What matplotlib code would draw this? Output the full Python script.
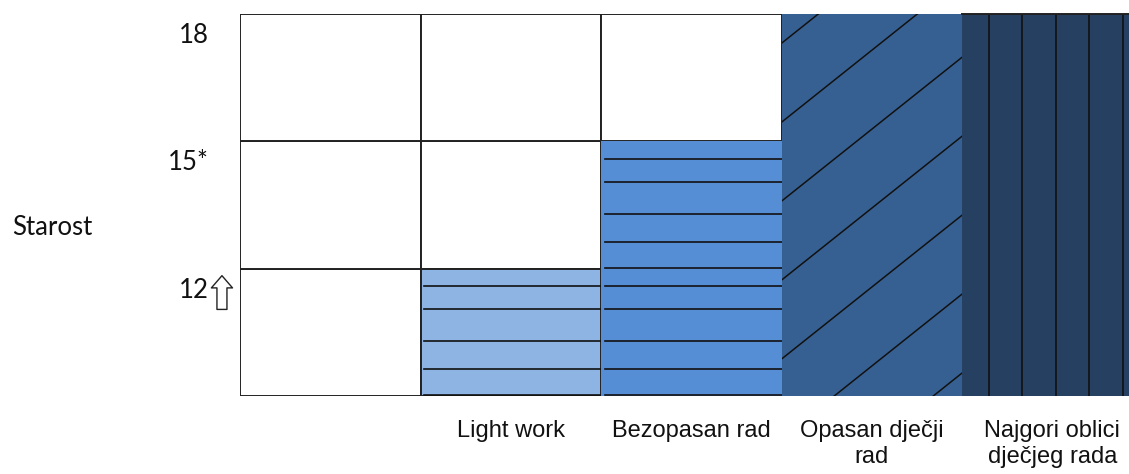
import numpy as np
import matplotlib
matplotlib.use('Agg')
import matplotlib.pyplot as plt

# Data: work categories and how many age bands (12, 15*, 18) each one covers
categories = ['', 'Light work', 'Bezopasan rad', 'Opasan dječji\nrad', 'Najgori oblici\ndječjeg rada']
bands_covered = [0, 1, 2, 3, 3]
ages = ['12', '15*', '18']
y_title = 'Starost'

fill_colors = ['white', '#8DB4E2', '#558ED5', '#376092', '#254061']
hatch_kind = [None, 'h', 'h', 'd', 'v']

fig = plt.figure(figsize=(11.29, 4.74), dpi=100)
ax = fig.add_axes([240 / 1129, 78 / 474, 889 / 1129, 382 / 474])
n_rows = len(ages)
x = np.arange(len(categories))

# empty grid of white cells
for r in range(n_rows):
    ax.bar(x, 1, bottom=r, width=1, align='edge', color='white',
           edgecolor='#222222', linewidth=1.4, zorder=1)

# filled columns
edges = ['#222222' if h == 'h' and b == 1 else 'none' for h, b in zip(hatch_kind, bands_covered)]
bars = ax.bar(x, bands_covered, width=1, align='edge', color=fill_colors,
              edgecolor=edges, linewidth=1.4, zorder=2)

# hand-drawn looking hatch lines, clipped to each bar
row_fracs = [0.14, 0.32, 0.57, 0.79, 0.995]
for i, (bar, kind, h) in enumerate(zip(bars, hatch_kind, bands_covered)):
    if kind is None or h == 0:
        continue
    x0 = bar.get_x()
    if kind == 'h':
        for r in range(h):
            for f in row_fracs:
                yy = r + 1 - f
                ln, = ax.plot([x0 + 0.02, x0 + 1], [yy, yy], color='#111111', lw=1.2, zorder=3)
                ln.set_clip_path(bar)
    elif kind == 'd':
        slope = 1.13
        for c in np.arange(2.77, -1.6, -0.62):
            xs = np.array([x0, x0 + 1])
            ln, = ax.plot(xs, c + slope * (xs - x0), color='#111111', lw=1.1, zorder=3)
            ln.set_clip_path(bar)
    elif kind == 'v':
        for xv in np.arange(0.15, 1.0, 0.185):
            ln, = ax.plot([x0 + xv, x0 + xv], [0, h], color='#111111', lw=1.2, zorder=3)
            ln.set_clip_path(bar)

# top line over the last column
ax.plot([x[-1], x[-1] + 1], [n_rows, n_rows], color='#222222', lw=1.4, zorder=4, clip_on=False)

ax.set_xlim(0, 889 / 180.5)
ax.set_ylim(0, n_rows)
ax.axis('off')

# category labels
trans = matplotlib.transforms.blended_transform_factory(ax.transData, ax.transAxes)
for xi, lab in zip(x, categories):
    ax.text(xi + 0.5, -0.064, lab, transform=trans, ha='center', va='top',
            fontsize=17, family='Liberation Sans', color='#111111', linespacing=1.2)

# age labels
for lvl, lab in enumerate(ages, start=1):
    ax.annotate(lab, xy=(0, lvl), xytext=(-31, -29), textcoords='offset pixels',
                ha='right', va='baseline', fontsize=18.5, family='Lato', color='#111111')

# arrow next to the first age
ax.annotate('', xy=(-0.1, 0.945), xytext=(-0.1, 0.68),
            arrowprops=dict(arrowstyle='simple,head_length=0.55,head_width=0.95,tail_width=0.45',
                            fc='white', ec='#222222', lw=1.0, shrinkA=0, shrinkB=0,
                            mutation_scale=16), annotation_clip=False)

fig.text(12 / 1129, 1 - 235 / 474, y_title, ha='left', va='baseline',
         fontsize=18.5, family='Lato', color='#111111')

fig.savefig('out.png', dpi=100)
